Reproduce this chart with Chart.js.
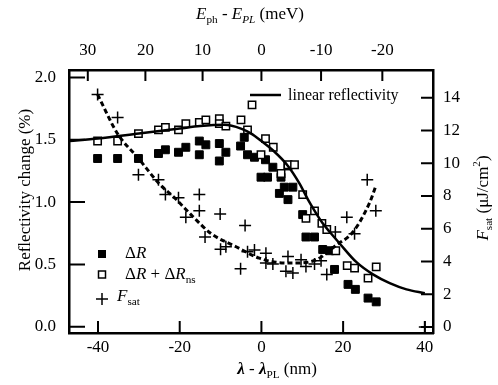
<!DOCTYPE html>
<html>
<head>
<meta charset="utf-8">
<title>Reflectivity change vs detuning</title>
<script src="https://cdn.jsdelivr.net/npm/chart.js@4.4.1/dist/chart.umd.min.js"></script>
<style>
  body { margin: 0; background: #fff; }
  canvas { display: block; }
</style>
</head>
<body>
<canvas id="reflChart" width="498" height="385"></canvas>
<script>
// --- data ---
// lambda - lambda_PL (nm) and reflectivity change (%) for Delta R
const lambdaDR = [-40.1, -35.2, -30.1, -25.2, -23.5, -20.3, -18.5, -15.2, -15.2, -13.6, -10.3, -10.3, -8.7, -5.1, -4.2, -3.4, -1.7, 1.0, -0.1, 1.5, 2.8, 4.4, 5.6, 6.5, 4.8, 7.7, 6.5, 10.1, 10.9, 13.0, 15.0, 16.7, 17.9, 21.2, 23.0, 26.1, 28.1];
const deltaR   = [1.35, 1.35, 1.35, 1.39, 1.42, 1.40, 1.44, 1.38, 1.49, 1.46, 1.47, 1.33, 1.40, 1.45, 1.52, 1.38, 1.36, 1.34, 1.20, 1.20, 1.28, 1.07, 1.12, 1.29, 1.20, 1.12, 1.02, 0.90, 0.72, 0.72, 0.62, 0.61, 0.46, 0.34, 0.30, 0.23, 0.20];

// Delta R + Delta R_ns
const lambdaDRns = [-40.1, -35.2, -30.1, -25.2, -23.5, -20.3, -18.5, -15.2, -13.6, -10.3, -10.3, -8.7, -5.0, -3.4, -2.3, 1.0, -0.1, 2.9, 4.8, 6.5, 8.1, 10.1, 10.9, 13.0, 14.8, 16.0, 18.2, 21.0, 22.8, 26.1, 28.1];
const deltaRns   = [1.49, 1.49, 1.55, 1.58, 1.60, 1.58, 1.63, 1.64, 1.66, 1.67, 1.63, 1.61, 1.66, 1.58, 1.78, 1.51, 1.38, 1.44, 1.23, 1.30, 1.30, 1.06, 0.87, 0.93, 0.83, 0.78, 0.61, 0.49, 0.47, 0.39, 0.48];

// saturation fluence F_sat (uJ/cm^2), right axis
const lambdaF = [-40.1, -35.2, -30.1, -25.2, -23.5, -20.3, -15.2, -18.5, -15.2, -10.1, -13.8, -4.0, -10.0, -8.7, -5.1, -3.4, -1.7, 1.1, 1.1, 2.8, 6.5, 6.0, 7.7, 9.7, 10.9, 13.0, 14.6, 16.0, 18.1, 20.9, 22.8, 25.9, 28.0, 40.0];
const fSat    = [14.2, 12.8, 9.3, 9.0, 8.1, 7.9, 8.1, 6.7, 7.1, 6.9, 5.5, 6.2, 4.75, 4.9, 3.55, 4.6, 4.7, 4.5, 3.9, 3.85, 4.3, 3.4, 3.3, 4.1, 3.7, 3.85, 4.05, 3.2, 5.8, 6.7, 5.7, 9.0, 7.1, 0.0];

// linear reflectivity curve
const lambdaLin = [-47, -40, -30, -20, -15, -9, -5, -2.5, 0, 3, 6.5, 9.3, 11.4, 13.4, 15, 17, 19.1, 23.2, 27.3, 31.4, 35.5, 40];
const linRefl   = [1.49, 1.51, 1.55, 1.59, 1.61, 1.62, 1.59, 1.55, 1.49, 1.41, 1.29, 1.15, 1.02, 0.91, 0.83, 0.75, 0.67, 0.52, 0.42, 0.35, 0.30, 0.27];

// dashed guide through F_sat
const lambdaFit = [-40.1, -35.2, -30.1, -25.2, -20.9, -16.8, -12.3, -6.2, -0.5, 3.6, 7.7, 13.4, 18.3, 22.4, 26.5, 28.0];
const fitF      = [14.2, 11.8, 10.3, 8.8, 7.8, 6.75, 5.7, 4.9, 4.2, 3.95, 3.9, 4.1, 5.0, 5.8, 7.6, 8.6];

// axes
const xRange = [-47.1, 42];
const leftRange = [-0.05, 2.06];
const rightRange = [-0.37, 15.7];
const bottomTicks = [-40, -20, 0, 20, 40];
const leftTicks = [0, 0.5, 1.0, 1.5, 2.0];
const rightTicks = [0, 2, 4, 6, 8, 10, 12, 14];
// photon energy detuning (meV) on the top axis, and where it falls in nm
const topTickLabels = ['30', '20', '10', '0', '-10', '-20'];
const topTickLambda = [-42.5, -28.4, -14.4, 0, 14.6, 29.6];

const serif = '"Liberation Serif", "Times New Roman", serif';
const toPoints = (xs, ys) => xs.map((x, i) => ({ x: x, y: ys[i] }));
const fixTicks = arr => scale => { scale.ticks = arr.map(v => ({ value: v })); };

// text with italics / sub / superscripts
function drawRich(ctx, parts, x, y, size, align) {
  let total = 0;
  const pieces = parts.map(p => {
    const s = (p.sub || p.sup) ? size * 0.66 : size;
    const font = (p.bold ? 'bold ' : '') + (p.italic ? 'italic ' : '') + s + 'px ' + serif;
    ctx.font = font;
    const w = ctx.measureText(p.t).width;
    total += w;
    return { p: p, font: font, w: w };
  });
  let cx = align === 'left' ? x : x - total / 2;
  pieces.forEach(pc => {
    ctx.font = pc.font;
    let dy = 0;
    if (pc.p.sub) dy = size * 0.32;
    if (pc.p.sup) dy = -size * 0.38;
    ctx.fillText(pc.p.t, cx, y + dy);
    cx += pc.w;
  });
}

const annotations = {
  id: 'annotations',
  afterDraw(chart) {
    const ctx = chart.ctx;
    const area = chart.chartArea;
    ctx.save();
    ctx.fillStyle = '#000';
    ctx.strokeStyle = '#000';
    ctx.textBaseline = 'middle';

    // inward tick marks
    ctx.lineWidth = 2;
    const sc = chart.scales;
    ctx.beginPath();
    sc.x.ticks.forEach(t => { const px = sc.x.getPixelForValue(t.value); ctx.moveTo(px, area.bottom); ctx.lineTo(px, area.bottom - 12); });
    sc.xTop.ticks.forEach(t => { const px = sc.xTop.getPixelForValue(t.value); ctx.moveTo(px, area.top); ctx.lineTo(px, area.top + 11); });
    sc.y.ticks.forEach(t => { const py = sc.y.getPixelForValue(t.value); ctx.moveTo(area.left, py); ctx.lineTo(area.left + 16, py); });
    sc.y2.ticks.forEach(t => { const py = sc.y2.getPixelForValue(t.value); ctx.moveTo(area.right, py); ctx.lineTo(area.right - 12, py); });
    ctx.stroke();

    // axis titles
    drawRich(ctx, [{ t: 'E', italic: true }, { t: 'ph', sub: true }, { t: ' - ' }, { t: 'E', italic: true }, { t: 'PL', sub: true, italic: true }, { t: ' (meV)' }], 250, 15, 17);
    drawRich(ctx, [{ t: 'λ', bold: true, italic: true }, { t: ' - ' }, { t: 'λ', bold: true, italic: true }, { t: 'PL', sub: true }, { t: ' (nm)' }], 277, 370, 17);

    ctx.save();
    ctx.translate(26, 190);
    ctx.rotate(-Math.PI / 2);
    drawRich(ctx, [{ t: 'Reflectivity change (%)' }], 0, 0, 17);
    ctx.restore();

    ctx.save();
    ctx.translate(484, 198);
    ctx.rotate(-Math.PI / 2);
    drawRich(ctx, [{ t: 'F', italic: true }, { t: 'sat', sub: true }, { t: ' (μJ/cm' }, { t: '2', sup: true }, { t: ')' }], 0, 0, 17);
    ctx.restore();

    // legend: linear reflectivity
    ctx.lineWidth = 2.5;
    ctx.beginPath();
    ctx.moveTo(250, 95);
    ctx.lineTo(281, 95);
    ctx.stroke();
    drawRich(ctx, [{ t: 'linear reflectivity' }], 288, 96, 16, 'left');

    // legend: markers
    ctx.fillRect(98, 250, 8, 8);
    ctx.lineWidth = 1.5;
    ctx.strokeRect(98.5, 271, 7, 7);
    ctx.beginPath();
    ctx.moveTo(96, 299); ctx.lineTo(108, 299);
    ctx.moveTo(102, 293); ctx.lineTo(102, 305);
    ctx.stroke();
    drawRich(ctx, [{ t: 'Δ' }, { t: 'R', italic: true }], 125, 254, 17, 'left');
    drawRich(ctx, [{ t: 'Δ' }, { t: 'R', italic: true }, { t: ' + Δ' }, { t: 'R', italic: true }, { t: 'ns', sub: true }], 125, 275, 17, 'left');
    drawRich(ctx, [{ t: 'F', italic: true }, { t: 'sat', sub: true }], 117, 297, 17, 'left');

    ctx.restore();
  }
};

const tickFont = { family: serif, size: 17 };
const axisBorder = { display: true, color: '#000', width: 2.5 };
const noGrid = { display: false, drawTicks: false };

new Chart(document.getElementById('reflChart'), {
  type: 'scatter',
  data: {
    datasets: [
      {
        label: 'linear reflectivity',
        type: 'line',
        data: toPoints(lambdaLin, linRefl),
        borderColor: '#000',
        borderWidth: 2.5,
        pointRadius: 0,
        fill: false,
        cubicInterpolationMode: 'monotone',
        xAxisID: 'x',
        yAxisID: 'y',
        order: 0
      },
      {
        label: 'F_sat fit',
        type: 'line',
        data: toPoints(lambdaFit, fitF),
        borderColor: '#000',
        borderWidth: 3,
        borderDash: [5, 3],
        pointRadius: 0,
        fill: false,
        cubicInterpolationMode: 'monotone',
        xAxisID: 'x',
        yAxisID: 'y2',
        order: 1
      },
      {
        label: 'ΔR + ΔRns',
        data: toPoints(lambdaDRns, deltaRns),
        pointStyle: 'rect',
        pointRadius: 5.2,
        backgroundColor: '#fff',
        borderColor: '#000',
        borderWidth: 1.5,
        xAxisID: 'x',
        yAxisID: 'y',
        order: 2
      },
      {
        label: 'ΔR',
        data: toPoints(lambdaDR, deltaR),
        pointStyle: 'rect',
        pointRadius: 5.6,
        backgroundColor: '#000',
        borderColor: '#000',
        borderWidth: 1,
        xAxisID: 'x',
        yAxisID: 'y',
        order: 3
      },
      {
        label: 'F_sat',
        data: toPoints(lambdaF, fSat),
        pointStyle: 'cross',
        pointRadius: 6,
        borderColor: '#000',
        borderWidth: 1.5,
        xAxisID: 'x',
        yAxisID: 'y2',
        order: 4
      }
    ]
  },
  options: {
    responsive: false,
    animation: false,
    layout: { padding: 0 },
    plugins: { legend: { display: false }, tooltip: { enabled: false } },
    scales: {
      x: {
        type: 'linear', position: 'bottom', min: xRange[0], max: xRange[1],
        afterBuildTicks: fixTicks(bottomTicks),
        afterFit: s => { s.height = 52; },
        grid: noGrid, border: axisBorder,
        ticks: { font: tickFont, color: '#000', padding: 4, autoSkip: false, maxRotation: 0, callback: v => String(v) }
      },
      xTop: {
        type: 'linear', position: 'top', min: xRange[0], max: xRange[1],
        afterBuildTicks: fixTicks(topTickLambda),
        afterFit: s => { s.height = 70; },
        grid: noGrid, border: axisBorder,
        ticks: { font: tickFont, color: '#000', padding: 9, autoSkip: false, maxRotation: 0, callback: (v, i) => topTickLabels[i] }
      },
      y: {
        type: 'linear', position: 'left', min: leftRange[0], max: leftRange[1],
        afterBuildTicks: fixTicks(leftTicks),
        afterFit: s => { s.width = 69; },
        grid: noGrid, border: axisBorder,
        ticks: { font: tickFont, color: '#000', padding: 13, autoSkip: false, callback: v => v.toFixed(1) }
      },
      y2: {
        type: 'linear', position: 'right', min: rightRange[0], max: rightRange[1],
        afterBuildTicks: fixTicks(rightTicks),
        afterFit: s => { s.width = 65; },
        grid: noGrid, border: axisBorder,
        ticks: { font: tickFont, color: '#000', padding: 10, autoSkip: false, callback: v => String(v) }
      }
    }
  },
  plugins: [annotations]
});
</script>
</body>
</html>
